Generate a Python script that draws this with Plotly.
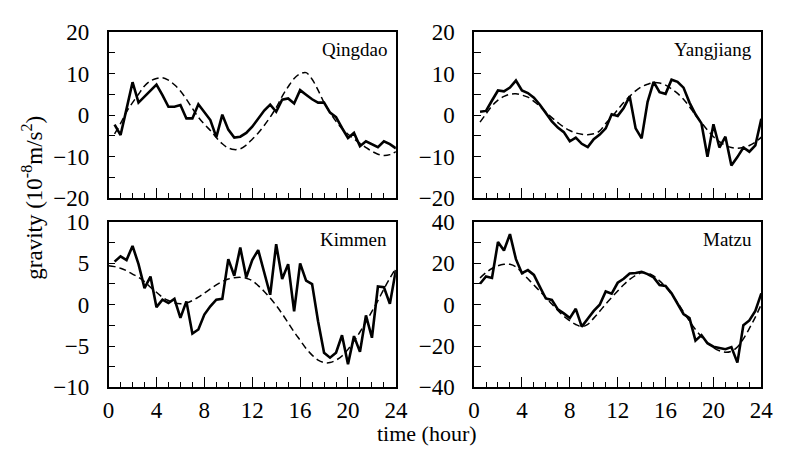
import plotly.graph_objects as go

hours = [0.5 * i for i in range(1, 49)]
hours_k = [0.5 * i for i in range(0, 49)]

stations = ["Qingdao", "Yangjiang", "Kimmen", "Matzu"]

qingdao_obs = [-2.3, -4.8, 1.5, 7.9, 3.0, 4.4, 5.9, 7.3, 4.8, 2.0, 2.0, 2.4,
               -0.8, -0.8, 2.6, 0.8, -1.2, -5.3, 0.1, -3.5, -5.4, -5.2, -4.3, -2.8,
               -0.9, 1.1, 2.5, 0.8, 3.7, 4.0, 2.8, 6.0, 4.9, 3.8, 3.0, 3.0,
               0.6, -0.5, -3.1, -5.5, -4.3, -7.5, -6.3, -7.0, -7.7, -6.3, -7.0, -8.0]
qingdao_model = [-4.5, -2.0, 0.8, 3.0, 5.0, 7.0, 8.2, 8.8, 9.0, 8.4, 7.3, 5.8,
                 3.8, 1.6, -0.5, -2.2, -3.7, -5.4, -6.9, -7.9, -8.3, -8.1, -7.2, -5.8,
                 -4.3, -2.5, -0.5, 1.8, 4.5, 6.8, 8.8, 9.9, 10.2, 8.6, 6.0, 3.0,
                 0.6, -1.5, -3.2, -4.6, -5.7, -6.8, -7.8, -8.7, -9.4, -9.7, -9.5, -8.8]

yangjiang_obs = [0.8, 1.0, 3.5, 5.9, 5.7, 6.6, 8.3, 5.9, 5.3, 4.2, 2.5, 0.6,
                 -1.5, -3.0, -4.1, -6.3, -5.4, -6.9, -7.7, -5.8, -4.7, -3.2, 0.2, -0.2,
                 1.7, 4.5, -3.2, -5.6, 3.2, 8.0, 5.5, 5.1, 8.5, 8.0, 6.6, 3.0,
                 0.2, -2.0, -10.0, -2.2, -7.8, -5.2, -12.1, -10.1, -7.8, -8.8, -7.3, -0.9]
yangjiang_model = [-1.7, 0.3, 2.2, 3.6, 4.5, 5.0, 5.1, 4.8, 4.3, 3.3, 2.1, 0.7,
                   -0.6, -1.8, -2.9, -3.7, -4.3, -4.6, -4.7, -4.5, -3.8, -2.0, -0.5, 1.3,
                   3.0, 4.5, 5.8, 6.8, 7.4, 7.8, 7.7, 7.2, 6.3, 5.2, 3.8, 2.0,
                   0.0, -1.8, -3.6, -5.2, -6.4, -7.3, -7.8, -8.0, -7.8, -7.3, -6.5, -5.3]

kimmen_obs = [5.2, 5.85, 5.4, 7.1, 4.9, 2.0, 3.4, -0.3, 0.6, 0.2, 0.7, -1.6,
              0.4, -3.5, -3.0, -1.2, -0.2, 0.6, 0.7, 5.5, 3.5, 6.9, 3.3, 5.4,
              6.6, 3.9, 1.2, 7.3, 3.1, 4.9, -0.8, 5.0, 2.9, 2.5, -2.0, -5.8,
              -6.4, -5.8, -3.7, -7.2, -3.8, -5.7, -1.3, -4.0, 2.2, 2.1, 0.1, 4.2]
kimmen_model = [4.7, 4.6, 4.4, 4.1, 3.7, 3.3, 2.8, 2.1, 1.5, 0.9, 0.5, 0.2, 0.1,
                0.2, 0.5, 0.9, 1.4, 1.9, 2.4, 2.8, 3.1, 3.25, 3.3, 3.2, 2.9,
                2.3, 1.6, 0.8, -0.1, -1.1, -2.2, -3.3, -4.3, -5.3, -6.1, -6.7, -7.0,
                -7.0, -6.7, -6.2, -5.4, -4.4, -3.3, -2.1, -0.8, 0.5, 1.9, 3.2, 4.4]

matzu_obs = [10.1, 13.6, 12.9, 30.3, 26.2, 34.1, 22.0, 15.2, 16.7, 14.4, 8.6, 3.0,
             2.3, -2.3, -4.2, -6.5, -2.0, -10.6, -6.8, -3.0, 0.0, 6.4, 5.3, 10.6,
             12.5, 15.1, 15.3, 15.9, 14.8, 13.2, 9.5, 9.1, 5.5, 0.5, -4.5, -6.5,
             -17.4, -14.7, -18.6, -20.3, -21.0, -21.5, -20.5, -28.0, -9.9, -7.6, -3.0, 5.5]
matzu_model = [12.9, 15.5, 17.5, 18.8, 19.5, 19.5, 18.3, 15.5, 12.5, 9.5, 6.5, 3.5,
               0.3, -2.8, -5.6, -7.8, -9.6, -10.6, -9.5, -6.5, -3.2, 0.3, 3.5, 6.6,
               9.6, 12.2, 14.2, 15.4, 15.3, 13.9, 11.5, 8.5, 5.0, 1.0, -3.5, -8.0,
               -12.0, -15.5, -18.5, -20.8, -22.3, -23.0, -22.5, -20.5, -16.5, -11.5, -6.0, 0.2]

obs = [qingdao_obs, yangjiang_obs, kimmen_obs, matzu_obs]
model = [qingdao_model, yangjiang_model, kimmen_model, matzu_model]
model_hours = [hours, hours, hours_k, hours]

y_ranges = [[-20, 20], [-20, 20], [-10, 10], [-40, 40]]
y_major = [10, 10, 5, 20]
x_ticks = [0, 4, 8, 12, 16, 20, 24]

W, H = 787, 460
xdoms = [[105 / W, 399 / W], [479 / W, 773 / W]]
ydoms = [[1 - 197 / H, 1 - 21 / H], [1 - 397 / H, 1 - 222 / H]]

FONT = "Liberation Serif, Times New Roman, serif"

fig = go.Figure()
layout = dict(
    width=W, height=H, margin=dict(l=0, r=0, t=0, b=0),
    paper_bgcolor="white", plot_bgcolor="white", showlegend=False,
    font=dict(family=FONT, color="black", size=20),
)

annotations = []
for i, name in enumerate(stations):
    r, c = divmod(i, 2)
    n = i + 1
    xa = "x" if n == 1 else f"x{n}"
    ya = "y" if n == 1 else f"y{n}"
    fig.add_trace(go.Scatter(x=hours, y=obs[i], mode="lines", xaxis=xa, yaxis=ya,
                             line=dict(color="black", width=2.6)))
    fig.add_trace(go.Scatter(x=model_hours[i], y=model[i], mode="lines", xaxis=xa, yaxis=ya,
                             line=dict(color="black", width=1.5, dash="7px,4px", shape="spline")))
    layout["xaxis" if n == 1 else f"xaxis{n}"] = dict(
        domain=xdoms[c], range=[0, 24], tickvals=x_ticks,
        ticktext=[str(v) for v in x_ticks], showticklabels=(r == 1),
        ticks="inside", ticklen=11, tickwidth=1.3, tickcolor="black",
        minor=dict(dtick=1, ticks="inside", ticklen=6, tickwidth=1.3, tickcolor="black"),
        showline=True, linecolor="black", linewidth=1.5, mirror=True,
        showgrid=False, zeroline=False, anchor=ya,
        tickfont=dict(family=FONT, size=23), ticklabelstandoff=1,
    )
    layout["yaxis" if n == 1 else f"yaxis{n}"] = dict(
        domain=ydoms[r], range=y_ranges[i], tickmode="linear", tick0=0, dtick=y_major[i],
        ticks="inside", ticklen=7, tickwidth=1.3, tickcolor="black",
        minor=dict(dtick=y_major[i] / 2, ticks="inside", ticklen=7, tickwidth=1.3,
                   tickcolor="black", showgrid=False),
        showline=True, linecolor="black", linewidth=1.5, mirror=True,
        showgrid=False, zeroline=False, anchor=xa,
        tickfont=dict(family=FONT, size=23), ticklabelstandoff=13,
    )
    annotations.append(dict(text=name, xref=f"{xa} domain", yref=f"{ya} domain",
                            x=0.975, y=0.895, xanchor="right", yanchor="middle",
                            showarrow=False, font=dict(family=FONT, size=19)))

annotations.append(dict(text="gravity (10<sup>-8</sup>m/s<sup>2</sup>)", xref="paper", yref="paper",
                        x=27 / W, y=1 - 196 / H, textangle=-90, showarrow=False,
                        xanchor="center", yanchor="middle", font=dict(family=FONT, size=23)))
annotations.append(dict(text="time (hour)", xref="paper", yref="paper",
                        x=431 / W, y=1 - 446 / H, showarrow=False,
                        xanchor="center", yanchor="middle", font=dict(family=FONT, size=22)))
layout["annotations"] = annotations
fig.update_layout(**layout)
fig.write_html("out.html")
